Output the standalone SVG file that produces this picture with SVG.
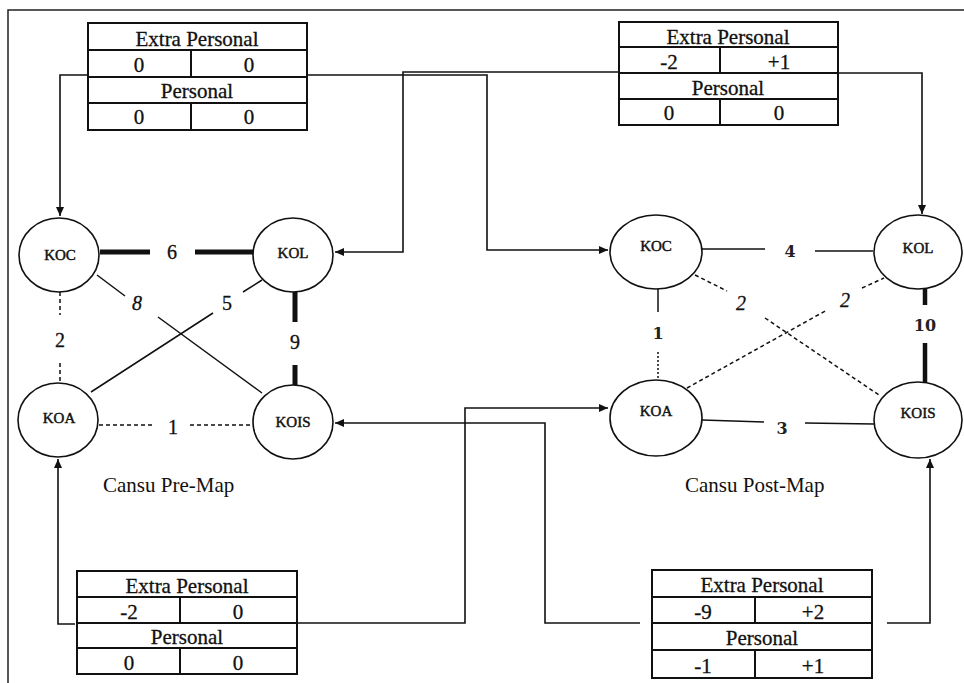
<svg xmlns="http://www.w3.org/2000/svg" width="964" height="683" viewBox="0 0 964 683">
<style>
  .frame { fill: none; stroke: #222; stroke-width: 1.5; }
  .tbl { fill: #fff; stroke: #111; stroke-width: 2; }
  .tl { stroke: #111; stroke-width: 2; }
  .tt { font-family: "Liberation Serif", "Times New Roman", serif; font-size: 21px; fill: #111; stroke: #111; stroke-width: 0.3; text-anchor: middle; }
  .node { fill: #fff; stroke: #111; stroke-width: 1.6; }
  .nt { font-family: "Liberation Serif", "Times New Roman", serif; font-size: 15px; fill: #111; stroke: #111; stroke-width: 0.45; text-anchor: middle; }
  .conn { fill: none; stroke: #111; stroke-width: 1.6; }
  .thin { fill: none; stroke: #111; stroke-width: 1.5; }
  .thick { fill: none; stroke: #111; stroke-width: 5; }
  .dash { fill: none; stroke: #111; stroke-width: 1.5; stroke-dasharray: 4 3; }
  .el { font-family: "Liberation Serif", "Times New Roman", serif; font-size: 20px; fill: #111; stroke: #111; stroke-width: 0.3; text-anchor: middle; }
  .elb { font-family: "DejaVu Serif", "Liberation Serif", serif; font-size: 16px; font-weight: bold; fill: #222; text-anchor: middle; }
  .eli { font-family: "Liberation Serif", "Times New Roman", serif; font-size: 20px; font-style: italic; fill: #111; stroke: #111; stroke-width: 0.3; text-anchor: middle; }
  .cap { font-family: "Liberation Serif", "Times New Roman", serif; font-size: 21px; fill: #111; }
</style>
<defs>
  <marker id="arr" markerUnits="userSpaceOnUse" markerWidth="10" markerHeight="8" refX="9" refY="4" orient="auto">
    <path d="M0,0 L9,4 L0,8 z" fill="#111"/>
  </marker>
</defs>
<rect width="964" height="683" fill="#fff"/>
<path class="frame" d="M8,683 V10 H964"/>

<g id="connectors">
  <path class="conn" d="M88,75 H60 V216" marker-end="url(#arr)"/>
  <path class="conn" d="M307,75 H487 V250 H608" marker-end="url(#arr)"/>
  <path class="conn" d="M619,72 H403 V252 H335" marker-end="url(#arr)"/>
  <path class="conn" d="M838,73 H922 V214" marker-end="url(#arr)"/>
  <path class="conn" d="M75,624 H58 V459" marker-end="url(#arr)"/>
  <path class="conn" d="M297,623 H465 V408 H608" marker-end="url(#arr)"/>
  <path class="conn" d="M640,623 H545 V423 H335" marker-end="url(#arr)"/>
  <path class="conn" d="M887,623 H930 V459" marker-end="url(#arr)"/>

  <!-- pre-map edges -->
  <path class="thick" d="M100,252 H150 M195,252 H253"/>
  <text class="el" x="172" y="259">6</text>
  <path class="thin" d="M97,275 L125,296 M158,317 L262,393"/>
  <text class="eli" x="137" y="310">8</text>
  <path class="thin" d="M91,392 L213,313 M243,292 L262,280"/>
  <text class="el" x="227" y="310">5</text>
  <path class="thick" d="M295,292 V322 M295,365 V385"/>
  <text class="el" x="295" y="349">9</text>
  <path class="dash" d="M60,292 V315 M60,363 V383"/>
  <text class="el" x="60" y="347">2</text>
  <path class="dash" d="M99,425 H155 M190,425 H253"/>
  <text class="el" x="173" y="434">1</text>

  <!-- post-map edges -->
  <path class="thin" d="M702,249 H765 M815,251 H873"/>
  <text class="elb" x="790" y="257">4</text>
  <path class="thin" d="M658,289 V312"/>
  <path class="dash" d="M658,352 V381" style="stroke-dasharray:2 2"/>
  <text class="elb" x="658" y="339">1</text>
  <path class="dash" d="M695,275 L727,291 M765,318 L879,395"/>
  <text class="eli" x="741" y="310">2</text>
  <path class="dash" d="M687,388 L827,310 M862,288 L884,278"/>
  <text class="eli" x="845" y="307">2</text>
  <path class="thick" d="M925,289 V305 M925,343 V383" style="stroke-width:4.5"/>
  <text class="elb" x="925" y="331">10</text>
  <path class="thin" d="M702,420 L764,422 M805,423 L874,424"/>
  <text class="elb" x="782" y="434">3</text>
</g>

<g id="node-pre-koc"><ellipse class="node" cx="59" cy="255" rx="40" ry="37"/><text class="nt" x="60" y="260">KOC</text></g>
<g id="node-pre-kol"><ellipse class="node" cx="293" cy="255" rx="40" ry="37"/><text class="nt" x="293" y="258">KOL</text></g>
<g id="node-pre-koa"><ellipse class="node" cx="58" cy="420" rx="40" ry="37"/><text class="nt" x="59" y="423">KOA</text></g>
<g id="node-pre-kois"><ellipse class="node" cx="293" cy="422" rx="40" ry="37"/><text class="nt" x="293" y="427">KOIS</text></g>

<g id="node-post-koc"><ellipse class="node" cx="656" cy="252" rx="46" ry="37"/><text class="nt" x="656" y="251">KOC</text></g>
<g id="node-post-kol"><ellipse class="node" cx="918" cy="252" rx="44" ry="37"/><text class="nt" x="918" y="253">KOL</text></g>
<g id="node-post-koa"><ellipse class="node" cx="656" cy="418" rx="46" ry="38"/><text class="nt" x="656" y="416">KOA</text></g>
<g id="node-post-kois"><ellipse class="node" cx="918" cy="420" rx="44" ry="38"/><text class="nt" x="918" y="418">KOIS</text></g>

<g id="table-top-left">
  <rect class="tbl" x="88" y="23" width="219" height="107"/>
  <path class="tl" d="M88,50 H307 M88,77 H307 M88,103 H307 M191,50 V77 M191,103 V130"/>
  <text class="tt" x="197" y="46">Extra Personal</text>
  <text class="tt" x="139" y="72">0</text>
  <text class="tt" x="249" y="72">0</text>
  <text class="tt" x="197" y="98">Personal</text>
  <text class="tt" x="139" y="124">0</text>
  <text class="tt" x="249" y="124">0</text>
</g>

<g id="table-top-right">
  <rect class="tbl" x="619" y="22" width="219" height="103"/>
  <path class="tl" d="M619,47 H838 M619,73 H838 M619,99 H838 M720,47 V73 M720,99 V125"/>
  <text class="tt" x="728" y="44">Extra Personal</text>
  <text class="tt" x="669" y="69">-2</text>
  <text class="tt" x="779" y="69">+1</text>
  <text class="tt" x="728" y="95">Personal</text>
  <text class="tt" x="669" y="120">0</text>
  <text class="tt" x="779" y="120">0</text>
</g>

<g id="table-bottom-left">
  <rect class="tbl" x="77" y="571" width="220" height="103"/>
  <path class="tl" d="M77,597 H297 M77,623 H297 M77,648 H297 M180,597 V623 M180,648 V674"/>
  <text class="tt" x="187" y="593">Extra Personal</text>
  <text class="tt" x="129" y="619">-2</text>
  <text class="tt" x="238" y="619">0</text>
  <text class="tt" x="187" y="644">Personal</text>
  <text class="tt" x="129" y="670">0</text>
  <text class="tt" x="238" y="670">0</text>
</g>

<g id="table-bottom-right">
  <rect class="tbl" x="652" y="570" width="220" height="108"/>
  <path class="tl" d="M652,597 H872 M652,623 H872 M652,650 H872 M755,597 V623 M755,650 V678"/>
  <text class="tt" x="762" y="592">Extra Personal</text>
  <text class="tt" x="703" y="619">-9</text>
  <text class="tt" x="813" y="619">+2</text>
  <text class="tt" x="762" y="645">Personal</text>
  <text class="tt" x="703" y="673">-1</text>
  <text class="tt" x="813" y="673">+1</text>
</g>

<text class="cap" x="103" y="492">Cansu Pre-Map</text>
<text class="cap" x="685" y="492">Cansu Post-Map</text>
</svg>
